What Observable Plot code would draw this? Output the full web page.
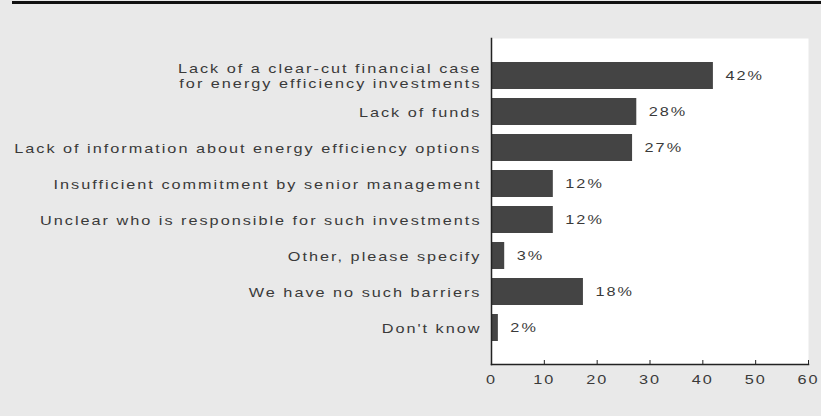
<!DOCTYPE html>
<html>
<head>
<meta charset="utf-8">
<script src="https://cdn.jsdelivr.net/npm/d3@7"></script>
<script src="https://cdn.jsdelivr.net/npm/@observablehq/plot@0.6"></script>
<style>
  html, body { margin: 0; padding: 0; background: #e9e9e9; }
  #wrap { position: relative; width: 821px; height: 416px; overflow: hidden; }
  #topline { position: absolute; left: 12px; right: 0; top: 1px; height: 3px; background: #111; }
</style>
</head>
<body>
<div id="wrap"><div id="topline"></div></div>
<script>
const categories = [
  "Lack of a clear-cut financial case\nfor energy efficiency investments",
  "Lack of funds",
  "Lack of information about energy efficiency options",
  "Insufficient commitment by senior management",
  "Unclear who is responsible for such investments",
  "Other, please specify",
  "We have no such barriers",
  "Don't know"
];
const barLengths = [42, 27.5, 26.7, 11.7, 11.7, 2.5, 17.4, 1.3];
const valueLabels = ["42%", "28%", "27%", "12%", "12%", "3%", "18%", "2%"];
const xTicks = [0, 10, 20, 30, 40, 50, 60];

const data = categories.map((c, i) => ({cat: c, v: barLengths[i], label: valueLabels[i]}));

const chart = Plot.plot({
  width: 821,
  height: 416,
  marginLeft: 491,
  marginRight: 13,
  marginTop: 38,
  marginBottom: 52,
  style: {fontFamily: "'Liberation Sans', Arial, sans-serif", fontSize: "13px", letterSpacing: "1.6px", color: "#3a3a3a", background: "transparent"},
  x: {domain: [0, 60], ticks: xTicks},
  y: {domain: categories, paddingInner: 0.26, paddingOuter: 0.62},
  marks: [
    Plot.frame({fill: "white", stroke: null}),
    Plot.barX(data, {y: "cat", x: "v", fill: "#444"}),
    Plot.text(data, {y: "cat", x: "v", text: "label", textAnchor: "start", dx: 12, fill: "#3a3a3a"}),
    Plot.frame({anchor: "left", stroke: "#222", strokeWidth: 1.5}),
    Plot.frame({anchor: "bottom", stroke: "#222", strokeWidth: 1.5}),
    Plot.axisX({ticks: xTicks, tickSize: -4, tickPadding: 14, label: null, stroke: "#222"}),
    Plot.axisY({tickSize: 0, tickPadding: 10, label: null, lineHeight: 1.15, fill: "#3a3a3a"})
  ]
});

// stretch text horizontally around its anchor to mimic the wide typeface
const SX = 1.25;
const isNum = s => s !== null && /^\s*-?[\d.]+(e-?\d+)?\s*$/.test(s);
chart.querySelectorAll("text").forEach(t => {
  let tr = t.getAttribute("transform") || "";
  const x = t.getAttribute("x"), y = t.getAttribute("y");
  let tx = 0, ty = 0;
  if (isNum(x)) { tx = +x; t.removeAttribute("x"); }
  if (isNum(y)) { ty = +y; t.removeAttribute("y"); }
  if (tx || ty) tr += ` translate(${tx},${ty})`;
  t.setAttribute("transform", (tr + ` scale(${SX},1)`).trim());
});
document.getElementById("wrap").appendChild(chart);
</script>
</body>
</html>
